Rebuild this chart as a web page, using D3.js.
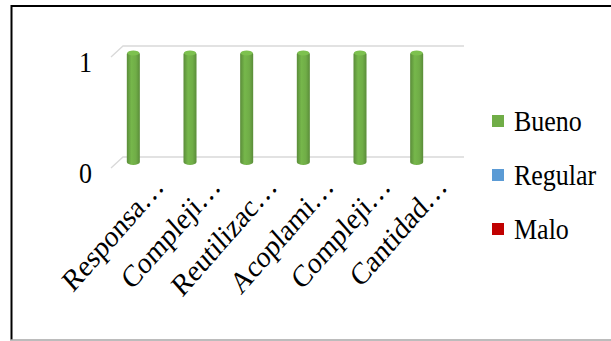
<!DOCTYPE html>
<html><head><meta charset="utf-8">
<script src="https://cdn.jsdelivr.net/npm/d3@7"></script>
<style>html,body{margin:0;padding:0;background:#fff;}svg{display:block;}</style>
</head><body>
<svg id="c" width="611" height="341"></svg>
<script>
const categories = ["Responsa…","Compleji…","Reutilizac…","Acoplami…","Compleji…","Cantidad…"];
const seriesNames = ["Bueno","Regular","Malo"];
const bueno = [1,1,1,1,1,1];
const regular = [0,0,0,0,0,0];
const malo = [0,0,0,0,0,0];
const yTicks = [0,1];
const colors = ["#70AD47","#5B9BD5","#C00000"];

const svg = d3.select("#c");
const font = "'Liberation Serif','Times New Roman',serif";
const SY = 1.14;

// frame
svg.append("line").attr("x1",11).attr("x2",611).attr("y1",6).attr("y2",6).attr("stroke","#000").attr("stroke-width",2);
svg.append("line").attr("x1",11.5).attr("x2",11.5).attr("y1",5).attr("y2",340).attr("stroke","#000").attr("stroke-width",2);
svg.append("line").attr("x1",10).attr("x2",611).attr("y1",340).attr("y2",340).attr("stroke","#a6a6a6").attr("stroke-width",1.5);

const x = d3.scaleBand().domain(d3.range(categories.length)).range([105,445]).paddingInner(0.77).paddingOuter(0.385);
const y = d3.scaleLinear().domain([0,1]).range([157,46]);
const dx = -12, dy = 11;

// gridlines (back wall) with depth diagonal
const grid = svg.append("g");
yTicks.forEach(t=>{
  grid.append("path")
    .attr("d",`M${123+dx},${y(t)+dy}L123,${y(t)}L464,${y(t)}`)
    .attr("fill","none").attr("stroke","#d9d9d9").attr("stroke-width",1.3);
});
// y labels
svg.append("g").selectAll("text").data(yTicks).join("text")
  .attr("transform",d=>`translate(92,${y(d)+26}) scale(1,${SY})`)
  .attr("text-anchor","end").attr("font-family",font).attr("font-size",26)
  .attr("fill","#000").text(d=>d);

// gradient for cylinder
const defs = svg.append("defs");
colors.forEach((c,i)=>{
  const g = defs.append("linearGradient").attr("id","g"+i).attr("x1","0").attr("x2","1").attr("y1","0").attr("y2","0");
  const dk = d3.color(c).darker(0.6), lt = d3.color(c).brighter(0.15);
  g.append("stop").attr("offset","0%").attr("stop-color",dk);
  g.append("stop").attr("offset","35%").attr("stop-color",lt);
  g.append("stop").attr("offset","70%").attr("stop-color",c);
  g.append("stop").attr("offset","100%").attr("stop-color",dk);
});

const rows = categories.map((c,i)=>({i, Bueno:bueno[i], Regular:regular[i], Malo:malo[i]}));
const stack = d3.stack().keys(seriesNames)(rows);
const bw = x.bandwidth();
stack.forEach((s,si)=>{
  const gS = svg.append("g");
  s.forEach(d=>{
    const h = y(d[0]) - y(d[1]);
    if (h <= 0) return;
    const xx = x(d.data.i);
    gS.append("rect").attr("x",xx).attr("y",y(d[1])+5).attr("width",bw).attr("height",h+3)
      .attr("rx",bw/2).attr("ry",3).attr("fill",`url(#g${si})`);
    gS.append("ellipse").attr("cx",xx+bw/2).attr("cy",y(d[1])+7).attr("rx",bw/2-0.5).attr("ry",2.5)
      .attr("fill",d3.color(colors[si]).brighter(0.3));
  });
});

// category labels
svg.append("g").selectAll("text").data(categories).join("text")
  .attr("transform",(d,i)=>`translate(${x(i)+bw/2+32},188) scale(1,${SY}) rotate(-45)`)
  .attr("text-anchor","end").attr("font-family",font).attr("font-size",27)
  .attr("fill","#000").text(d=>d);

// legend
const lg = svg.append("g");
const ly = [121,175,229];
seriesNames.forEach((n,i)=>{
  lg.append("rect").attr("x",492).attr("y",ly[i]-6).attr("width",12).attr("height",12).attr("fill",colors[i]);
  lg.append("text").attr("transform",`translate(514,${ly[i]+10}) scale(1,${SY})`)
    .attr("font-family",font).attr("font-size",26).attr("fill","#000").text(n);
});
</script>
</body></html>
